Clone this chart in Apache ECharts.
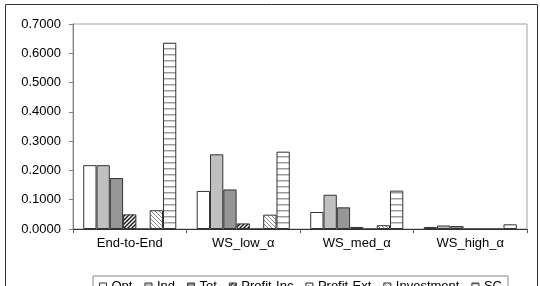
<!DOCTYPE html>
<html><head><meta charset="utf-8">
<script src="https://cdn.jsdelivr.net/npm/echarts@6/dist/echarts.min.js"></script>
<style>html,body{margin:0;padding:0;background:#fff;}#c{width:540px;height:286px;}</style>
</head><body><div id="c"></div>
<script>
const categories = ['End-to-End', 'WS_low_\u03b1', 'WS_med_\u03b1', 'WS_high_\u03b1'];
const seriesNames = ['Opt', 'Ind', 'Tot', 'Profit-Inc', 'Profit-Ext', 'Investment', 'SC'];
const s1 = [0.218, 0.130, 0.058, 0.007];
const s2 = [0.218, 0.255, 0.117, 0.012];
const s3 = [0.174, 0.135, 0.074, 0.010];
const s4 = [0.050, 0.019, 0.007, 0];
const s5 = [0, 0, 0, 0];
const s6 = [0.064, 0.049, 0.013, 0];
const s7 = [0.636, 0.264, 0.131, 0.016];
const yTicks = [0, 0.1, 0.2, 0.3, 0.4, 0.5, 0.6, 0.7];

function pat(w, h, draw) {
  const c = document.createElement('canvas');
  c.width = w; c.height = h;
  const g = c.getContext('2d');
  g.fillStyle = '#fff'; g.fillRect(0, 0, w, h);
  draw(g);
  return { image: c, repeat: 'repeat' };
}
const darkHatch = pat(4, 4, g => {
  g.strokeStyle = '#111'; g.lineWidth = 1.4;
  g.beginPath();
  for (let k = -2; k <= 2; k++) { g.moveTo(k * 4 - 1, 5); g.lineTo(k * 4 + 5, -1); }
  g.stroke();
});
const lightHatch = pat(4, 4, g => {
  g.strokeStyle = '#888'; g.lineWidth = 1;
  g.beginPath();
  for (let k = -2; k <= 2; k++) { g.moveTo(k * 4 - 1, -1); g.lineTo(k * 4 + 5, 5); }
  g.stroke();
});
const dotted = pat(4, 4, g => { g.fillStyle = '#777'; g.fillRect(0, 0, 1, 1); g.fillRect(2, 2, 1, 1); });
const stripes = pat(6, 6, g => { g.fillStyle = '#9a9a9a'; g.fillRect(0, 0, 6, 1); g.fillStyle = '#d0d0d0'; g.fillRect(0, 1, 6, 1); });

const fills = ['#ffffff', '#c0c0c0', '#969696', darkHatch, dotted, lightHatch, stripes];
const values = [s1, s2, s3, s4, s5, s6, s7];
const font = 'Liberation Sans';

const chart = echarts.init(document.getElementById('c'), null, { renderer: 'canvas' });
chart.setOption({
  animation: false,
  textStyle: { fontFamily: font },
  graphic: [{
    type: 'rect', left: 3, top: 2, z: 100, silent: true,
    shape: { x: 0, y: 0, width: 532, height: 310 },
    style: { fill: 'none', stroke: '#333', lineWidth: 1 }
  }],
  grid: { left: 73, top: 24, width: 454, height: 205, show: true, borderColor: '#a0a0a0', borderWidth: 1, backgroundColor: '#fff' },
  legend: {
    left: 93, top: 276, itemWidth: 7, itemHeight: 7, itemGap: 12,
    padding: [4, 6], borderColor: '#888', borderWidth: 1,
    textStyle: { fontFamily: font, fontSize: 13, color: '#000' },
    icon: 'rect',
    itemStyle: { borderColor: '#333', borderWidth: 1 },
    data: seriesNames
  },
  xAxis: {
    type: 'category', data: categories,
    axisLine: { lineStyle: { color: '#333', width: 1 } },
    axisTick: { show: true, length: 4, lineStyle: { color: '#555' } },
    axisLabel: { color: '#000', fontSize: 13, fontFamily: font, margin: 8 },
    splitLine: { show: false }
  },
  yAxis: {
    type: 'value', min: 0, max: 0.7, interval: 0.1,
    axisLine: { show: true, lineStyle: { color: '#808080' } },
    axisTick: { show: true, length: 4, lineStyle: { color: '#808080' } },
    axisLabel: { color: '#000', fontSize: 13, fontFamily: font, margin: 12, formatter: v => v.toFixed(4) },
    splitLine: { show: false }
  },
  series: seriesNames.map((n, i) => ({
    name: n, type: 'bar', data: values[i],
    barGap: '0%', barCategoryGap: '18%',
    itemStyle: { color: fills[i], borderColor: '#333', borderWidth: 1 }
  }))
});
</script></body></html>
